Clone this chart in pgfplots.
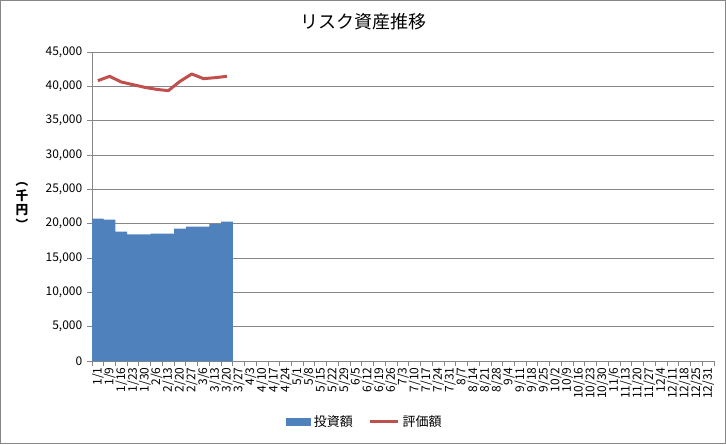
\documentclass[border=0pt]{standalone}
\usepackage{fontspec}
\setmainfont{Noto Sans CJK JP}
\usepackage{pgfplots}
\pgfplotsset{compat=1.18}
\definecolor{barblue}{HTML}{4F81BD}
\definecolor{linered}{HTML}{C0504D}
\definecolor{axgray}{HTML}{868686}
\begin{document}
\begin{tikzpicture}
\path[use as bounding box] (0,0) rectangle (544.5pt,333pt);
\draw[axgray, line width=0.75pt] (0.375pt,0.375pt) rectangle (544.125pt,332.625pt);
\node[font=\fontsize{13.5}{14}\selectfont] at (272.25pt,316.5pt) {リスク資産推移};
\node[font=\fontsize{9.5}{11}\selectfont\bfseries, align=center, inner sep=0pt] at (16.5pt,178.5pt) {︵\\千\\円\\︶};
\begin{axis}[
  at={(69pt,62.25pt)}, anchor=south west,
  scale only axis, width=466.5pt, height=231.75pt,
  xmin=-0.5, xmax=52.5, ymin=0, ymax=45000,
  ytick={0,5000,...,45000},
  scaled y ticks=false,
  /pgf/number format/fixed,
  /pgf/number format/1000 sep={,},
  /pgf/number format/assume math mode=true,
  y tick label style={font=\fontsize{9}{9}\selectfont},
  xtick={-0.5,0.5,...,52.5},
  x tick label as interval=true,
  xticklabels={1/1,1/9,1/16,1/23,1/30,2/6,2/13,2/20,2/27,3/6,3/13,3/20,3/27,4/3,4/10,4/17,4/24,5/1,5/8,5/15,5/22,5/29,6/5,6/12,6/19,6/26,7/3,7/10,7/17,7/24,7/31,8/7,8/14,8/21,8/28,9/4,9/11,9/18,9/25,10/2,10/9,10/16,10/23,10/30,11/6,11/13,11/20,11/27,12/4,12/11,12/18,12/25,12/31},
  x tick label style={rotate=90, anchor=east, font=\fontsize{9}{9}\selectfont, inner sep=1pt},
  axis x line*=bottom, axis y line*=left,
  axis line style={-, draw=axgray, line width=0.75pt},
  tick style={draw=axgray, line width=0.75pt},
  tick align=outside, major tick length=3.75pt,
  ymajorgrids, grid style={draw=axgray, line width=0.75pt},
  legend style={at={(0.439,-0.197)}, anchor=center, draw=none, fill=none, legend columns=2,
    font=\fontsize{9.75}{10}\selectfont,
    /tikz/every even column/.append style={column sep=10pt}},
  legend cell align=left,
]
\addplot[ybar, bar width=1, bar shift=0, fill=barblue, draw=none,
  legend image code/.code={\fill[barblue] (0pt,-3pt) rectangle (19pt,3pt);}]
  coordinates {(0,20720) (1,20580) (2,18850) (3,18450) (4,18450) (5,18550) (6,18550) (7,19280) (8,19570) (9,19570) (10,19950) (11,20290)};
\addlegendentry{投資額}
\addplot[linered, line width=2.25pt, line join=round, mark=none,
  legend image code/.code={\draw[linered, line width=2.25pt] (0pt,0pt) -- (21pt,0pt);}]
  coordinates {(0,40825) (1,41456) (2,40630) (3,40240) (4,39850) (5,39560) (6,39370) (7,40730) (8,41800) (9,41120) (10,41260) (11,41460)};
\addlegendentry{評価額}
\end{axis}
\end{tikzpicture}
\end{document}
